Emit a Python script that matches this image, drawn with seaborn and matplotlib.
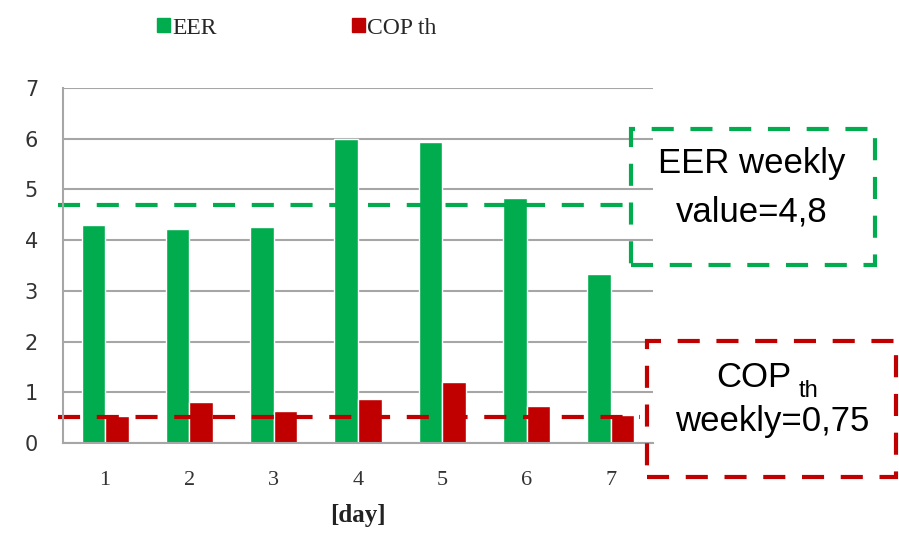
import pandas as pd
import matplotlib.pyplot as plt
import matplotlib.transforms as mtransforms
from matplotlib.patches import Rectangle, Patch
import seaborn as sns

days = ['1', '2', '3', '4', '5', '6', '7']
eer = [4.29, 4.22, 4.25, 6.0, 5.94, 4.84, 3.34]
cop_th = [0.53, 0.80, 0.63, 0.86, 1.21, 0.73, 0.56]
eer_line = 4.70
cop_line = 0.51

green = '#00ac4e'
red = '#c00000'
grey = '#a6a6a6'

df = pd.DataFrame({
    'day': days * 2,
    'value': eer + cop_th,
    'series': ['EER'] * 7 + ['COP th'] * 7,
})

sns.set_style('white')
fig = plt.figure(figsize=(8.99, 5.33), dpi=100)
W, H = 899, 533
ax = fig.add_axes([63 / W, 1 - 443 / H, 590 / W, 355 / H])

sns.barplot(data=df, x='day', y='value', hue='series', palette=[green, red],
            width=0.56, saturation=1, ax=ax, legend=False)

ax.set_ylim(0, 7)
ax.set_xlim(-0.5, 6.5)
ax.set_yticks(range(8))
ax.yaxis.grid(True, color=grey, lw=1.5)
ax.set_axisbelow(True)
for s in ['top', 'right']:
    ax.spines[s].set_visible(False)
for s in ['left', 'bottom']:
    ax.spines[s].set_color(grey)
    ax.spines[s].set_linewidth(1.5)

ax.set_xticks([i - 0.5 for i in range(8)], minor=True)
ax.tick_params(axis='x', which='major', length=0, pad=20)
ax.tick_params(axis='x', which='minor', length=6, color=grey, width=1.5)
ax.tick_params(axis='y', length=6, color=grey, width=1.5, pad=12)
for lab in ax.get_xticklabels():
    lab.set_fontfamily('Liberation Serif')
    lab.set_fontsize(16)
    lab.set_color('#333333')
for lab in ax.get_yticklabels():
    lab.set_fontfamily('DejaVu Sans')
    lab.set_fontsize(15)
    lab.set_color('#333333')

ax.set_xlabel('[day]', fontfamily='Liberation Serif', fontweight='bold',
              fontsize=18, labelpad=10, color='#222222')
ax.set_ylabel('')

# weekly averages as dashed lines reaching into the text boxes
tr = mtransforms.blended_transform_factory(ax.transAxes, ax.transData)
ax.plot([-0.009, 0.963], [eer_line, eer_line], transform=tr, color=green,
        lw=3, dashes=(5.3, 4), clip_on=False)
ax.plot([-0.009, 0.978], [cop_line, cop_line], transform=tr, color=red,
        lw=3, dashes=(5.3, 4), clip_on=False)

# dashed boxes
fig.patches.append(Rectangle((631 / W, 1 - 265 / H), 244 / W, 136 / H,
                             transform=fig.transFigure, fill=False,
                             ec=green, lw=3, ls=(0, (5.3, 4))))
fig.patches.append(Rectangle((647 / W, 1 - 477 / H), 249 / W, 136 / H,
                             transform=fig.transFigure, fill=False,
                             ec=red, lw=3, ls=(0, (5.3, 4))))

box_font = ['Liberation Sans Narrow', 'Liberation Sans', 'DejaVu Sans']
fig.text(752 / W, 1 - 163 / H, 'EER weekly', ha='center', va='center',
         fontsize=25, family=box_font, color='black')
fig.text(752 / W, 1 - 212 / H, 'value=4,8', ha='center', va='center',
         fontsize=25, family=box_font, color='black')
fig.text(791 / W, 1 - 387 / H, 'COP', ha='right', va='baseline',
         fontsize=25, family=box_font, color='black')
fig.text(799 / W, 1 - 397 / H, 'th', ha='left', va='baseline',
         fontsize=17, family=box_font, color='black')
fig.text(772 / W, 1 - 422 / H, 'weekly=0,75', ha='center', va='center',
         fontsize=25, family=box_font, color='black')

handles = [Patch(color=green, label='EER'), Patch(color=red, label='COP th')]
fig.legend(handles=handles, loc='center', bbox_to_anchor=(297 / W, 1 - 28 / H),
           ncol=2, frameon=False, handlelength=0.55, handleheight=0.55,
           handletextpad=0.1, columnspacing=5.7,
           prop={'family': 'Liberation Serif', 'size': 17})

fig.savefig('out.png', dpi=100)
